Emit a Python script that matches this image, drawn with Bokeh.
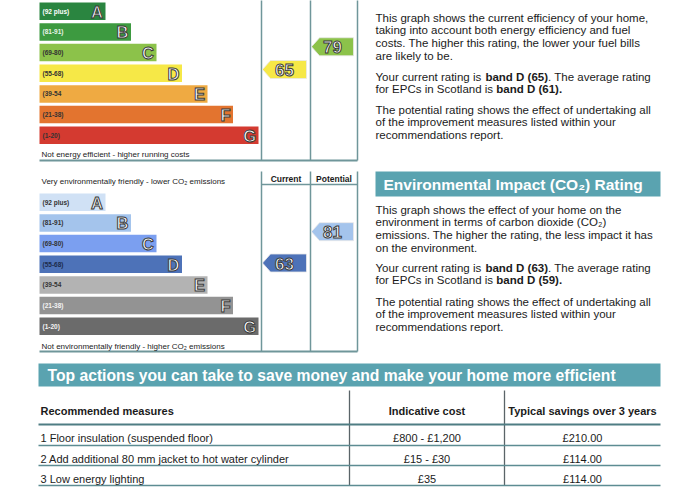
from bokeh.plotting import figure
from bokeh.models import Range1d
from bokeh.core.properties import value
from bokeh.embed import file_html
from bokeh.resources import INLINE

# ---------------- data ----------------
bands = ["A", "B", "C", "D", "E", "F", "G"]
band_labels = ["(92 plus)", "(81-91)", "(69-80)", "(55-68)", "(39-54", "(21-38)", "(1-20)"]
band_min = [92, 81, 69, 55, 39, 21, 1]
band_max = [100, 91, 80, 68, 54, 38, 20]
energy_colors = ["#2a8540", "#3d9a40", "#8cc24a", "#f6e847", "#efaa42", "#e3742f", "#d43a30"]
co2_colors = ["#d0e1f5", "#a4c4ec", "#7b9ff0", "#4d72b8", "#b3b3b3", "#939393", "#6b6b6b"]
energy_label_colors = ["#ffffff", "#e8f3e8", "#333333", "#333333", "#333333", "#333333", "#333333"]
co2_label_colors = ["#333333", "#333333", "#333333", "#1c2b4a", "#333333", "#f4f4f4", "#f4f4f4"]

energy_current = 65
energy_potential = 79
energy_scotland_avg = 61
co2_current = 63
co2_potential = 81
co2_scotland_avg = 59

energy_bottom_note = "Not energy efficient - higher running costs"
co2_top_note = "Very environmentally friendly - lower CO\u2082 emissions"
co2_bottom_note = "Not environmentally friendly - higher CO\u2082 emissions"
column_heads = ["Current", "Potential"]

energy_par1 = ["This graph shows the current efficiency of your home,",
               "taking into account both energy efficiency and fuel",
               "costs. The higher this rating, the lower your fuel bills",
               "are likely to be."]
co2_title = "Environmental Impact (CO\u2082) Rating"
co2_par1 = ["This graph shows the effect of your home on the",
            "environment in terms of carbon dioxide (CO\u2082)",
            "emissions. The higher the rating, the less impact it has",
            "on the environment."]
par3 = ["The potential rating shows the effect of undertaking all",
        "of the improvement measures listed within your",
        "recommendations report."]

table_title = "Top actions you can take to save money and make your home more efficient"
table_heads = ["Recommended measures", "Indicative cost", "Typical savings over 3 years"]
measures = ["1 Floor insulation (suspended floor)",
            "2 Add additional 80 mm jacket to hot water cylinder",
            "3 Low energy lighting"]
costs = ["\u00a3800 - \u00a31,200", "\u00a315 - \u00a330", "\u00a335"]
savings = ["\u00a3210.00", "\u00a3114.00", "\u00a3114.00"]

# ---------------- styles / layout ----------------
FONT = value("Liberation Sans")
TXT = "#1b1b1b"
TEAL = "#5aa3b0"
FRAME = "#6f969a"

REG = dict(zip(" (),-.0123456789", [278, 333, 333, 278, 333, 278] + [556] * 10))
REG.update(dict(zip("ABCDEFGHIJKLMNOPQRSTUVWXYZ",
                    [667, 667, 722, 722, 667, 611, 778, 722, 278, 500, 667, 556, 833,
                     722, 778, 667, 778, 722, 667, 611, 722, 667, 944, 667, 667, 611])))
REG.update(dict(zip("abcdefghijklmnopqrstuvwxyz",
                    [556, 556, 500, 556, 556, 278, 556, 556, 222, 222, 500, 222, 833,
                     556, 556, 556, 556, 333, 500, 278, 556, 500, 722, 500, 500, 500])))
BOLD = dict(zip(" (),-.0123456789", [278, 333, 333, 278, 333, 278] + [556] * 10))
BOLD.update(dict(zip("ABCDEFGHIJKLMNOPQRSTUVWXYZ",
                     [722, 722, 722, 722, 667, 611, 778, 722, 278, 556, 722, 611, 833,
                      722, 778, 667, 778, 722, 667, 611, 722, 667, 944, 667, 667, 611])))
BOLD.update(dict(zip("abcdefghijklmnopqrstuvwxyz",
                     [556, 611, 556, 611, 556, 333, 611, 611, 278, 278, 556, 278, 889,
                      611, 611, 611, 611, 389, 556, 333, 611, 556, 778, 556, 556, 500])))


def text_width(s, bold, size):
    table = BOLD if bold else REG
    return sum(table.get(ch, 556) for ch in s) * size / 1000.0


p = figure(width=684, height=491, output_backend="svg", toolbar_location=None,
           x_range=Range1d(1, 685), y_range=Range1d(492, 1),
           x_axis_type=None, y_axis_type=None, min_border=0)
p.outline_line_color = None
p.xgrid.visible = False
p.ygrid.visible = False
p.background_fill_color = "white"
p.border_fill_color = "white"


def txt(xs, ys, texts, size, bold=False, color=TXT, align="left", baseline="middle", **kw):
    p.text(x=xs, y=ys, text=texts, text_font=FONT, text_font_size=f"{size}px",
           text_font_style="bold" if bold else "normal", text_color=color,
           text_align=align, text_baseline=baseline, **kw)


BAR_X0 = 40
BAR_LEN0 = 66
BAR_STEP = 25.5
BAR_H = 17.5
ROW_STEP = 20.67
COLS = [262, 311, 358]


def band_index(v):
    for i, (lo, hi) in enumerate(zip(band_min, band_max)):
        if lo <= v <= hi:
            return i
    return len(bands) - 1


def arrow_y(v, top0):
    i = band_index(v)
    return top0 + i * ROW_STEP + (band_max[i] + 1 - v) / (band_max[i] + 1 - band_min[i]) * BAR_H


def draw_chart(top0, colors, label_colors, current, potential, frame_top, bottom_note, note_y, line_y,
               top_note=None, top_note_y=None, header=False):
    tops = [top0 + i * ROW_STEP for i in range(len(bands))]
    rights = [BAR_X0 + BAR_LEN0 + i * BAR_STEP for i in range(len(bands))]
    p.quad(left=[BAR_X0] * len(bands), right=rights, top=tops,
           bottom=[t + BAR_H for t in tops], fill_color=colors, line_color=None)
    mids = [t + BAR_H / 2 for t in tops]
    txt([BAR_X0 + 3] * len(bands), mids, band_labels, 6.5, bold=True, color=label_colors)
    txt([r - 2.5 for r in rights], [m + 0.5 for m in mids], bands, 16.5, bold=True, color="white",
        align="right", text_outline_color="#3a3a3a")
    # frame
    for cx in COLS:
        p.segment(x0=[cx], y0=[frame_top], x1=[cx], y1=[line_y], line_color=FRAME, line_width=1.5)
    p.segment(x0=[BAR_X0], y0=[line_y], x1=[COLS[-1]], y1=[line_y], line_color=FRAME, line_width=2)
    if header:
        p.segment(x0=[COLS[0]], y0=[frame_top + 13], x1=[COLS[-1]], y1=[frame_top + 13],
                  line_color=FRAME, line_width=1.5)
        txt([(COLS[0] + COLS[1]) / 2, (COLS[1] + COLS[2]) / 2], [frame_top + 7] * 2, column_heads,
            8.5, bold=True, align="center")
    if top_note:
        txt([BAR_X0 + 2], [top_note_y], [top_note], 8)
    txt([BAR_X0 + 2], [note_y], [bottom_note], 8)
    # arrows
    xs, ys, fills, nums, cxs, cys = [], [], [], [], [], []
    for v, left, right in [(current, COLS[0] + 1, COLS[1] - 4), (potential, COLS[1] + 1, COLS[2] - 4)]:
        yc = arrow_y(v, top0)
        xs.append([left, left + 8, right, right, left + 8])
        ys.append([yc, yc - 9, yc - 9, yc + 9, yc + 9])
        fills.append(colors[band_index(v)])
        nums.append(str(v))
        cxs.append((left + right) / 2)
        cys.append(yc + 0.5)
    p.patches(xs=xs, ys=ys, fill_color=fills, line_color="#e8e8e8", line_width=0.8)
    txt(cxs, cys, nums, 17, bold=True, color="white", align="center", text_outline_color="#3a3a3a")


draw_chart(3, energy_colors, energy_label_colors, energy_current, energy_potential,
           -10, energy_bottom_note, 155, 161)
draw_chart(194, co2_colors, co2_label_colors, co2_current, co2_potential,
           172, co2_bottom_note, 347, 352, top_note=co2_top_note, top_note_y=182, header=True)

# ---------------- right-hand text ----------------
TX = 376
FS = 11.5
LS = 12.9


def rich_line(x, y, runs, size=FS):
    cx = x
    for s, b in runs:
        txt([cx], [y], [s], size, bold=b)
        cx += text_width(s, b, size)


def rating_lines(y0, cur, avg):
    rich_line(TX, y0, [("Your current rating is ", False),
                       (f"band {bands[band_index(cur)]} ({cur})", True),
                       (". The average rating", False)])
    rich_line(TX, y0 + LS, [("for EPCs in Scotland is ", False),
                            (f"band {bands[band_index(avg)]} ({avg}).", True)])


txt([TX] * 4, [18 + i * LS for i in range(4)], energy_par1, FS)
rating_lines(77, energy_current, energy_scotland_avg)
txt([TX] * 3, [110 + i * LS for i in range(3)], par3, FS)

p.quad(left=[376], right=[661], top=[172], bottom=[197], fill_color=TEAL, line_color=None)
txt([384], [185], [co2_title], 15.5, bold=True, color="white")
txt([TX] * 4, [210 + i * LS for i in range(4)], co2_par1, FS)
rating_lines(268, co2_current, co2_scotland_avg)
txt([TX] * 3, [302 + i * LS for i in range(3)], par3, FS)

# ---------------- table ----------------
p.quad(left=[39], right=[661], top=[364], bottom=[387], fill_color=TEAL, line_color=None)
txt([48], [376], [table_title], 15.7, bold=True, color="white")

C1, C2 = 350, 505
cost_cx, save_cx = 427.5, 583
p.segment(x0=[C1, C2], y0=[391, 391], x1=[C1, C2], y1=[486, 486], line_color="#5a6468", line_width=1.3)
p.segment(x0=[39], y0=[425], x1=[661], y1=[425], line_color="#4f7d83", line_width=2)
row_lines = [446, 466, 486]
p.segment(x0=[39] * 3, y0=row_lines, x1=[661] * 3, y1=row_lines, line_color="#5d8c92", line_width=1.3)

txt([41], [411], [table_heads[0]], 11, bold=True)
txt([cost_cx, save_cx], [411, 411], table_heads[1:], 11, bold=True, align="center")
row_y = [438, 459, 479]
txt([41] * 3, row_y, measures, 11)
txt([cost_cx] * 3, row_y, costs, 11, align="center")
txt([save_cx] * 3, row_y, savings, 11, align="center")

open("out.html", "w").write(file_html(p, INLINE))
